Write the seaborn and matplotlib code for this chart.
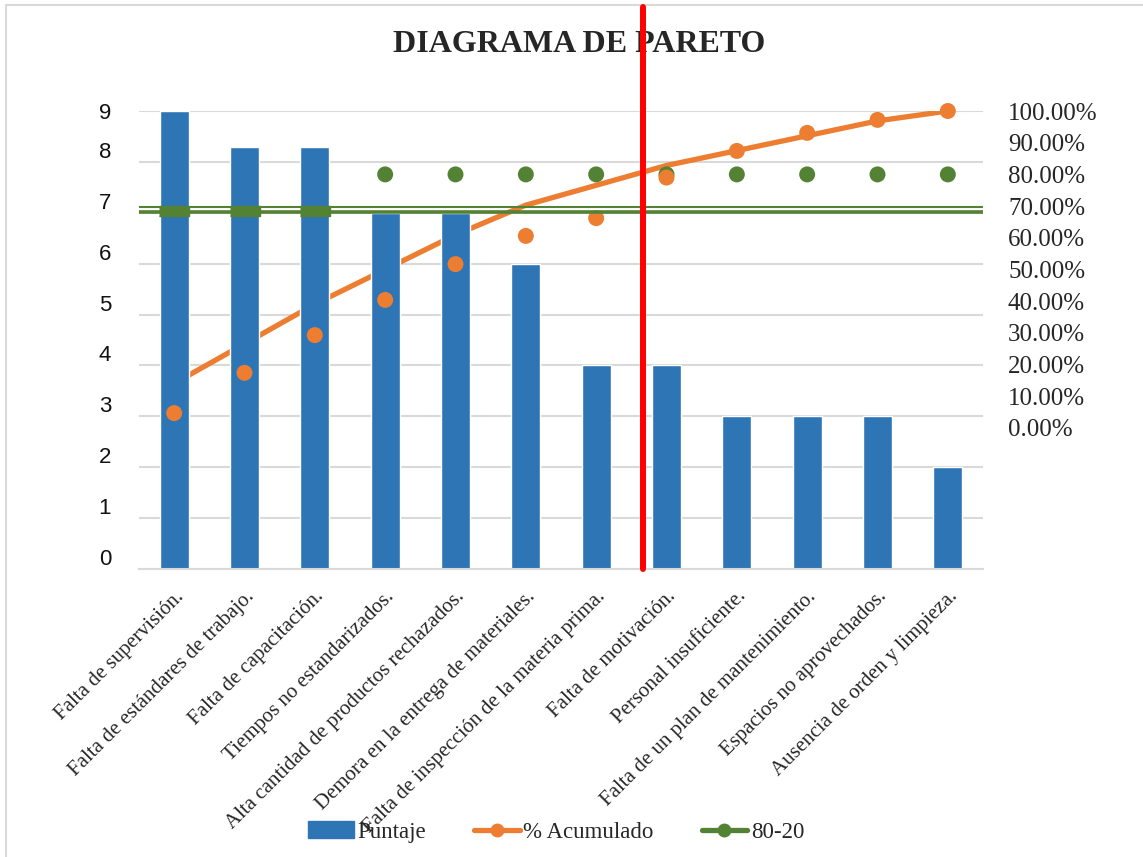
import numpy as np
import pandas as pd
import matplotlib
matplotlib.use("Agg")
import matplotlib.pyplot as plt
import matplotlib.transforms as mtransforms
from matplotlib.lines import Line2D
from matplotlib.patches import Patch, Rectangle
import seaborn as sns

# datos del diagrama
causas = [
    "Falta de supervisión.",
    "Falta de estándares de trabajo.",
    "Falta de capacitación.",
    "Tiempos no estandarizados.",
    "Alta cantidad de productos rechazados.",
    "Demora en la entrega de materiales.",
    "Falta de inspección de la materia prima.",
    "Falta de motivación.",
    "Personal insuficiente.",
    "Falta de un plan de mantenimiento.",
    "Espacios no aprovechados.",
    "Ausencia de orden y limpieza.",
]
puntaje = [9, 8.3, 8.3, 7, 7, 6, 4, 4, 3, 3, 3, 2]
acumulado_linea = [14.06, 26.56, 39.06, 50.00, 60.94, 70.31, 76.56, 82.81, 87.50, 92.19, 96.88, 100.00]
acumulado_puntos = [4.7, 17.4, 29.3, 40.4, 51.7, 60.6, 66.2, 79.0, 87.4, 93.1, 97.2, 100.0]
puntos_80_20 = [68.6, 68.6, 68.6, 80, 80, 80, 80, 80, 80, 80, 80, 80]
franjas_80_20 = [69.7, 68.0]
corte_rojo = 6.67
ticks_izq = list(range(10))
ticks_der = list(range(0, 101, 10))

AZUL = "#2E75B6"
NARANJA = "#ED7D31"
VERDE = "#548235"
GRIS = "#D9D9D9"
SERIF = ["Liberation Serif", "DejaVu Serif"]

sns.set_theme(style="white")
plt.rcParams['font.family'] = ['Liberation Sans', 'DejaVu Sans']

W, H = 1143, 857
fig = plt.figure(figsize=(W / 100, H / 100), dpi=100)
ax = fig.add_axes([139 / W, 1 - 569 / H, (983 - 139) / W, (569 - 111) / H])
ax2 = ax.twinx()

pos = np.arange(len(causas))
df = pd.DataFrame({"pos": pos, "Puntaje": puntaje})

# barras
sns.barplot(data=df, x="pos", y="Puntaje", native_scale=True, color=AZUL,
            saturation=1, width=0.41, ax=ax, zorder=2)

# linea acumulada (detras de las barras, en la escala de la derecha)
sns.lineplot(x=pos, y=acumulado_linea, ax=ax, color=NARANJA, lw=3.8,
             transform=ax2.transData, zorder=1.5)

ax.set_xlim(-0.5, len(causas) - 0.5)
ax.set_ylim(0, 9)
ax.set_yticks(ticks_izq)
ax.set_yticklabels([str(t) for t in ticks_izq], fontsize=16, color="#111111")
ax.yaxis.grid(True, color=GRIS, lw=1.5)
ax.set_axisbelow(True)
ax.set_xlabel("")
ax.set_ylabel("")
ax.set_xticks(pos)
ax.set_xticklabels(causas, rotation=45, ha="right", rotation_mode="anchor",
                   fontfamily=SERIF, fontsize=15)
ax.tick_params(axis="x", length=0, pad=13)
ax.tick_params(axis="y", length=0, pad=20)
for s in ["top", "left", "right"]:
    ax.spines[s].set_visible(False)
ax.spines["bottom"].set_color(GRIS)
ax.spines["bottom"].set_linewidth(1.5)

# etiquetas izquierdas un poco por encima de la linea
for t, lab in zip(ticks_izq, ax.get_yticklabels()):
    if t < 9:
        lab.set_transform(lab.get_transform() + mtransforms.ScaledTranslation(0, 12 / 100, fig.dpi_scale_trans))

# eje derecho
ax2.set_ylim(-44.48, 100)
ax2.set_yticks(ticks_der)
ax2.set_yticklabels([f"{t:.2f}%" for t in ticks_der], fontfamily=SERIF, fontsize=18)
ax2.tick_params(axis="y", length=0, pad=18)
ax2.grid(False)
for s in ax2.spines.values():
    s.set_visible(False)

# 80-20
for y, w in zip(franjas_80_20, [1.5, 2.6]):
    ax2.axhline(y, color=VERDE, lw=w, zorder=5)
rect = [(-1.6, -0.5), (1.6, -0.5), (1.6, 0.5), (-1.6, 0.5)]
ax2.plot(pos[:3], puntos_80_20[:3], ls="none", marker=rect, ms=21, color=VERDE, zorder=5)
sns.scatterplot(x=pos[3:], y=puntos_80_20[3:], ax=ax2, color=VERDE, s=11.5 ** 2,
                edgecolor="none", zorder=3)

# puntos acumulados
sns.scatterplot(x=pos, y=acumulado_puntos, ax=ax2, color=NARANJA, s=11.5 ** 2,
                edgecolor="none", zorder=4, clip_on=False)
ax2.set_xlabel("")
ax2.set_ylabel("")

# titulo
fig.text(579 / W, 1 - 45 / H, "DIAGRAMA DE PARETO", ha="center", va="center",
         fontsize=23, fontweight="bold", family=SERIF)

# linea roja de corte
trans = mtransforms.blended_transform_factory(ax.transData, fig.transFigure)
fig.add_artist(Line2D([corte_rojo, corte_rojo], [1 - 569 / H, 1 - 7 / H],
                      transform=trans, color="red", lw=4.3, zorder=10))

# borde del grafico
fig.add_artist(Rectangle((6 / W, -0.1), 1.2, 1.1 - 5 / H, transform=fig.transFigure,
                         fill=False, edgecolor=GRIS, lw=1.5))

# leyenda
handles = [
    Patch(color=AZUL),
    Line2D([], [], color=NARANJA, lw=3.8, marker="o", ms=9),
    Line2D([], [], color=VERDE, lw=3.8, marker="o", ms=9),
]
fig.legend(handles, ["Puntaje", "% Acumulado", "80-20"], loc="center",
           bbox_to_anchor=(556 / W, 1 - 832 / H), ncol=3, frameon=False,
           prop={"family": SERIF, "size": 16.5}, handlelength=2.0,
           handletextpad=0.15, columnspacing=2.1)

fig.savefig("out.png", dpi=100)
